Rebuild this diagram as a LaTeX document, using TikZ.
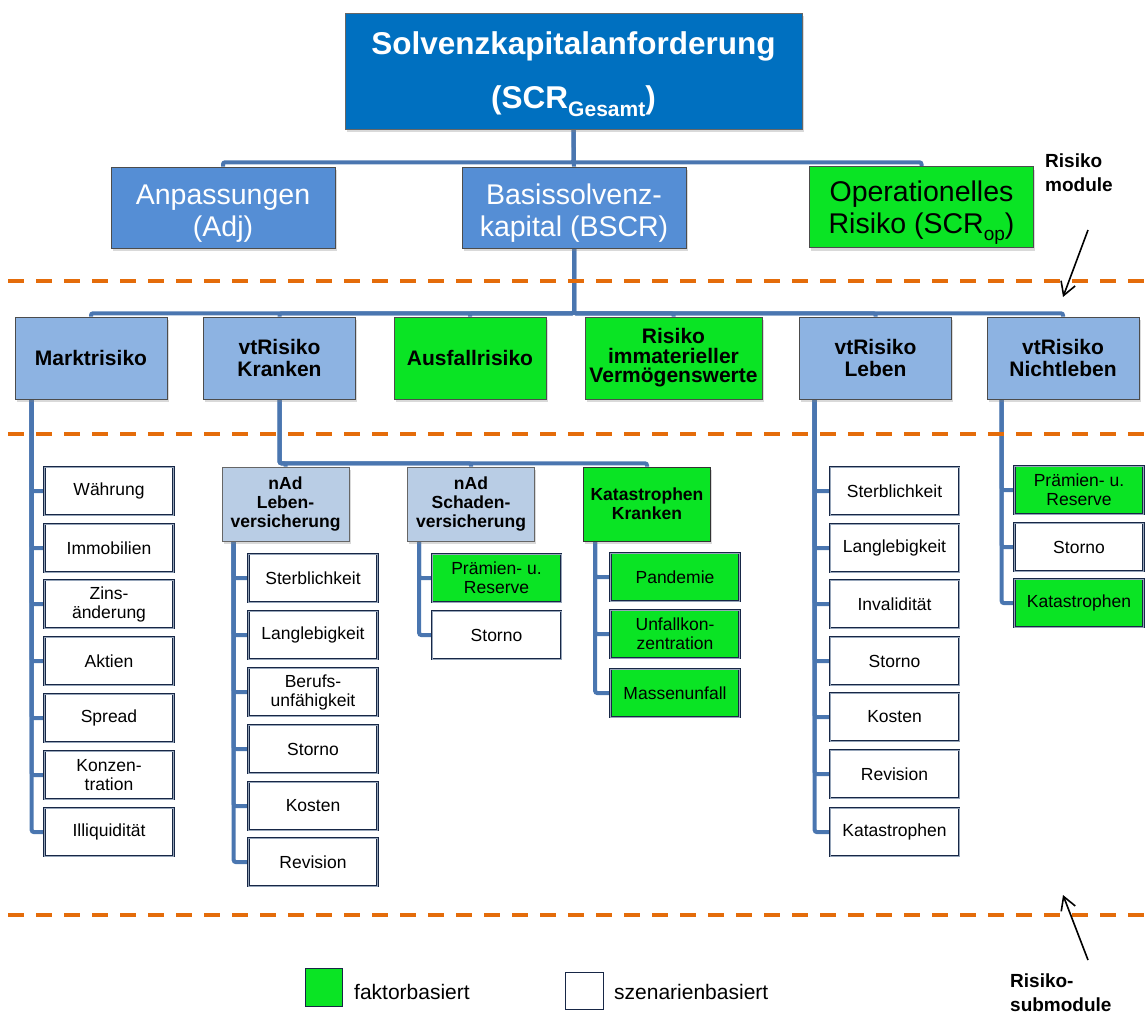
\documentclass[tikz,border=0pt]{standalone}
\usepackage{fontspec}
\setmainfont{Liberation Sans}
\usetikzlibrary{arrows.meta, shadows, backgrounds}
\definecolor{topblue}{RGB}{0,112,192}
\definecolor{midblue}{RGB}{85,142,213}
\definecolor{lightblue}{RGB}{141,179,226}
\definecolor{paleblue}{RGB}{185,205,229}
\definecolor{factgreen}{RGB}{10,228,36}
\definecolor{barblue}{RGB}{74,118,176}
\definecolor{rimnavy}{RGB}{23,39,70}
\definecolor{rimgrey}{RGB}{150,165,185}
\definecolor{lineorange}{RGB}{228,108,10}

\begin{document}
\begin{tikzpicture}[x=1pt, y=-1pt,
    every node/.style={inner sep=0pt, align=center},
    softshadow/.style={drop shadow={shadow xshift=1.5pt, shadow yshift=-3pt, opacity=0.3}},
    topbox/.style={fill=topblue, draw=black!60, line width=0.6pt, text=white, minimum width=457pt, minimum height=116pt, font=\fontsize{31.5}{51}\selectfont\bfseries, softshadow},
    modbox/.style={fill=midblue, draw=black!70, line width=0.6pt, text=white, minimum width=224pt, minimum height=81pt, font=\fontsize{28.5}{32}\selectfont, softshadow},
    riskbox/.style={fill=lightblue, draw=black!70, line width=0.6pt, minimum width=152pt, minimum height=82pt, font=\fontsize{21}{22.5}\selectfont\bfseries, softshadow},
    nadbox/.style={fill=paleblue, draw=black!60, line width=0.6pt, minimum width=127pt, minimum height=74pt, font=\fontsize{17.5}{19}\selectfont\bfseries, softshadow},
    subbox/.style={fill=white, draw=rimnavy, double=rimgrey, double distance=0.8pt, line width=1pt, minimum width=129pt, minimum height=48pt, font=\fontsize{17.5}{19}\selectfont},
    factor/.style={fill=factgreen},
    bar/.style={draw=barblue, line width=4pt, rounded corners=2pt},
    dashline/.style={draw=lineorange, line width=4pt, dash pattern=on 16pt off 12pt},
    pointer/.style={draw=black, line width=1.6pt, -{Straight Barb[length=13pt, width=15pt]}},
    sidetext/.style={anchor=west, align=left, font=\fontsize{19}{24}\selectfont\bfseries},
    keytext/.style={anchor=west, font=\fontsize{21}{24}\selectfont}]
\useasboundingbox (0,0) rectangle (1145,1018);

\draw[dashline] (8,281) -- (1145,281);
\draw[dashline] (8,433.5) -- (1145,433.5);
\draw[dashline] (8,915) -- (1145,915);

\node[topbox] (scr) at (573.5,71) {\rule{0pt}{30pt}Solvenzkapitalanforderung\\[3pt](SCR\raisebox{-8pt}{\fontsize{21}{21}\selectfont Gesamt})};

\node[modbox] (adj) at (223,207.5) {\rule{0pt}{31pt}Anpassungen\\(Adj)};
\node[modbox] (bscr) at (574,207.5) {\rule{0pt}{31pt}Basissolvenz-\\kapital (BSCR)};
\node[modbox, factor, text=black] (op) at (921.5,207) {\rule{0pt}{31pt}Operationelles\\Risiko (SCR\raisebox{-7pt}{\fontsize{19}{19}\selectfont op})};

\node[riskbox] (markt) at (91,358) {Marktrisiko};
\node[riskbox] (kranken) at (279.5,358) {vtRisiko\\Kranken};
\node[riskbox, factor] (ausfall) at (470,358) {Ausfallrisiko};
\node[riskbox, factor, minimum width=177pt, font=\fontsize{21}{19.5}\selectfont\bfseries] (immat) at (673.5,358) {Risiko\\immaterieller\\Vermögenswerte};
\node[riskbox] (leben) at (875.5,358) {vtRisiko\\Leben};
\node[riskbox] (nichtleben) at (1063,358) {vtRisiko\\Nichtleben};

\node[nadbox] (nadl) at (285.5,504) {nAd\\Leben-\\versicherung};
\node[nadbox] (nads) at (471,504) {nAd\\Schaden-\\versicherung};
\node[nadbox, factor, draw=black!80] (katk) at (647,504) {Katastrophen\\Kranken};

\node[subbox] (m1) at (109,491) {Währung};
\node[subbox] (m2) at (109,548) {Immobilien};
\node[subbox] (m3) at (109,604) {Zins-\\änderung};
\node[subbox] (m4) at (109,661) {Aktien};
\node[subbox] (m5) at (109,718) {Spread};
\node[subbox] (m6) at (109,775) {Konzen-\\tration};
\node[subbox] (m7) at (109,832) {Illiquidität};

\node[subbox] (nl1) at (313,578) {Sterblichkeit};
\node[subbox] (nl2) at (313,635) {Langlebigkeit};
\node[subbox] (nl3) at (313,692) {Berufs-\\unfähigkeit};
\node[subbox] (nl4) at (313,749) {Storno};
\node[subbox] (nl5) at (313,806) {Kosten};
\node[subbox] (nl6) at (313,862) {Revision};

\node[subbox, factor] (ns1) at (496.5,578) {Prämien- u.\\Reserve};
\node[subbox] (ns2) at (496.5,635) {Storno};

\node[subbox, factor] (kk1) at (675,577) {Pandemie};
\node[subbox, factor] (kk2) at (675,634) {Unfallkon-\\zentration};
\node[subbox, factor] (kk3) at (675,693) {Massenunfall};

\node[subbox] (vl1) at (894.5,491) {Sterblichkeit};
\node[subbox] (vl2) at (894.5,548) {Langlebigkeit};
\node[subbox] (vl3) at (894.5,604) {Invalidität};
\node[subbox] (vl4) at (894.5,661) {Storno};
\node[subbox] (vl5) at (894.5,717) {Kosten};
\node[subbox] (vl6) at (894.5,774) {Revision};
\node[subbox] (vl7) at (894.5,832) {Katastrophen};

\node[subbox, factor] (vn1) at (1079,490) {Prämien- u.\\Reserve};
\node[subbox] (vn2) at (1079,547) {Storno};
\node[subbox, factor] (vn3) at (1079,603) {Katastrophen};

\begin{scope}[on background layer]
\draw[bar] (scr.south) -- (bscr.north);
\draw[bar] (scr.south) -- ++(0,33) -| (adj.north);
\draw[bar] (scr.south) -- ++(0,33) -| (op.north);
\foreach \r in {markt,kranken,ausfall,immat,leben,nichtleben}
  \draw[bar] (bscr.south) -- ++(0,65) -| (\r.north);
\foreach \r in {nadl,nads,katk}
  \draw[bar] (kranken.south) -- ++(0,64) -| (\r.north);
\foreach \i in {1,...,7} \draw[bar] (markt.south west) ++(17,0) |- (m\i.west);
\foreach \i in {1,...,6} \draw[bar] (nadl.south west) ++(12,0) |- (nl\i.west);
\foreach \i in {1,2} \draw[bar] (nads.south west) ++(12,0) |- (ns\i.west);
\foreach \i in {1,2,3} \draw[bar] (katk.south west) ++(12,0) |- (kk\i.west);
\foreach \i in {1,...,7} \draw[bar] (leben.south west) ++(15.5,0) |- (vl\i.west);
\foreach \i in {1,2,3} \draw[bar] (nichtleben.south west) ++(15,0) |- (vn\i.west);
\end{scope}

\node[draw=rimnavy, fill=factgreen, line width=1pt, minimum width=37pt, minimum height=38pt] (keyfact) at (323.5,987) {};
\node[keytext] (keyfacttxt) at (354,992) {faktorbasiert};
\node[draw=rimnavy, fill=white, line width=1pt, minimum width=38pt, minimum height=37pt] (keyscen) at (584,990.5) {};
\node[keytext] (keyscentxt) at (614,992) {szenarienbasiert};

\node[sidetext] (modtxt) at (1045,173) {Risiko\\module};
\node[sidetext] (subtxt) at (1010,993) {Risiko-\\submodule};
\coordinate (modtail) at (1088,230);
\coordinate (modtip) at (1063,297);
\coordinate (subtail) at (1088,960);
\coordinate (subtip) at (1063,895);
\draw[pointer] (modtail) -- (modtip);
\draw[pointer] (subtail) -- (subtip);
\end{tikzpicture}
\end{document}
